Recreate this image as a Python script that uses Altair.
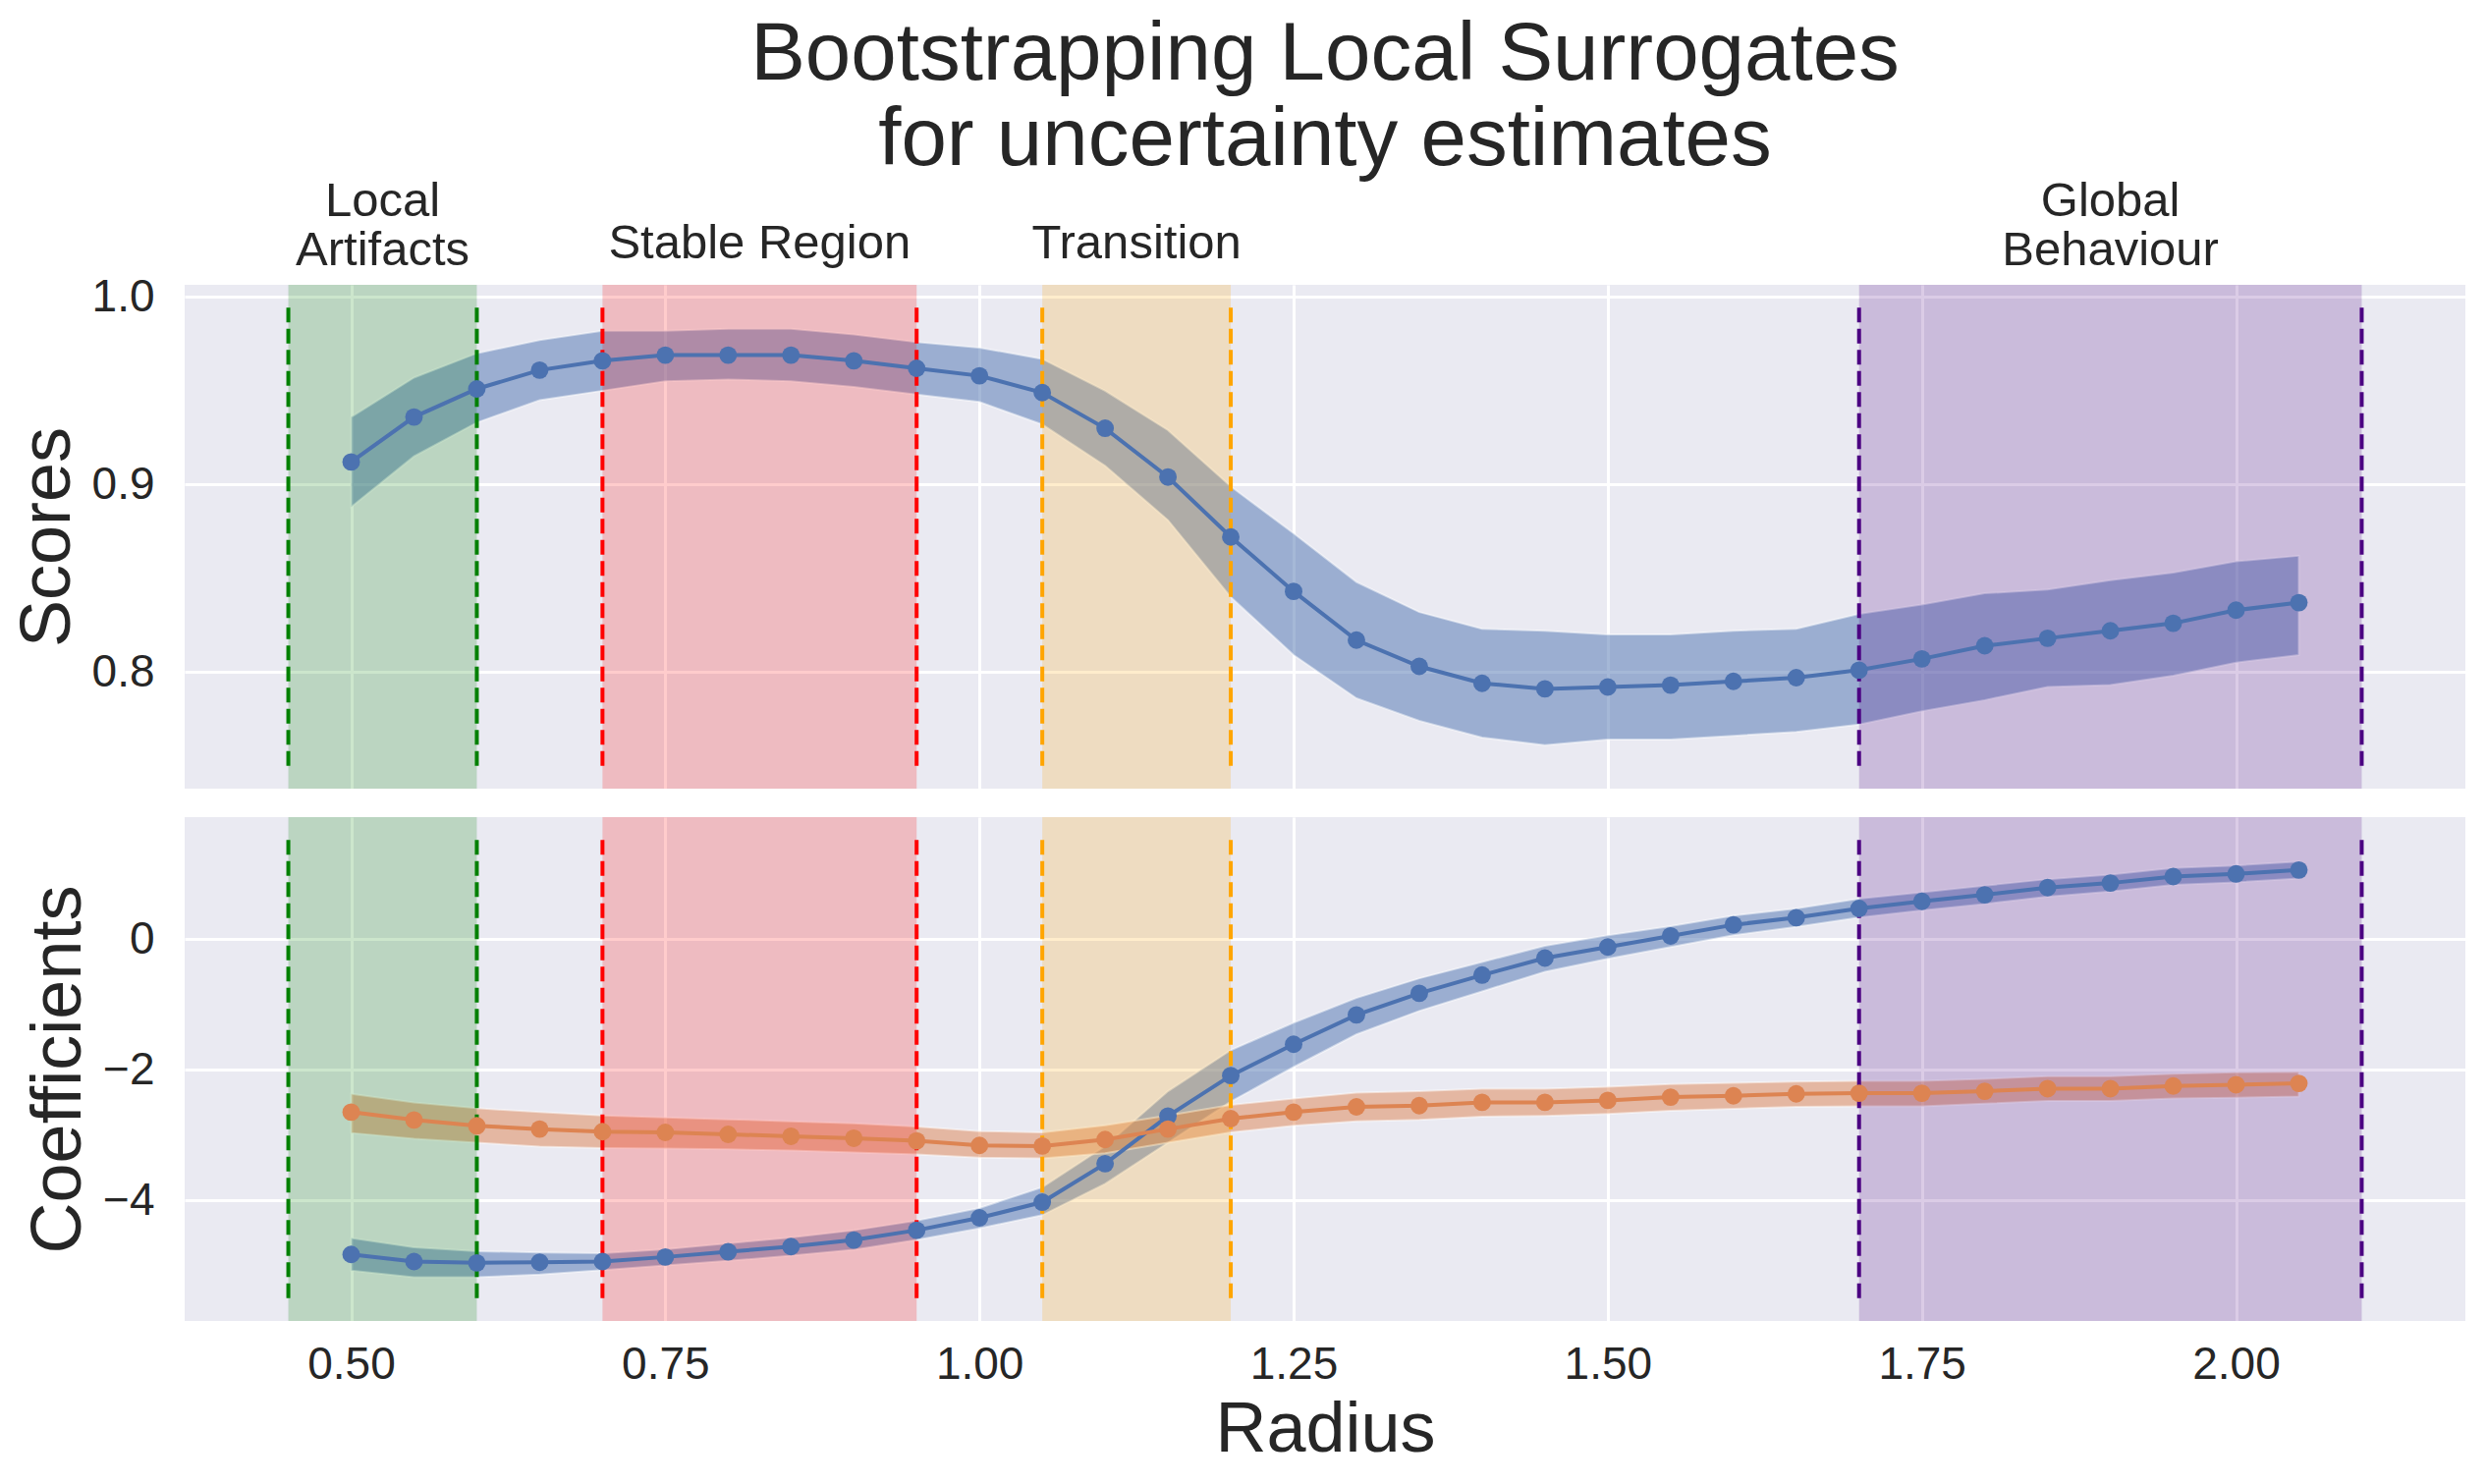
import altair as alt
import pandas as pd

# ---------------- data ----------------
radius = [0.50, 0.55, 0.60, 0.65, 0.70, 0.75, 0.80, 0.85, 0.90, 0.95, 1.00, 1.05,
          1.10, 1.15, 1.20, 1.25, 1.30, 1.35, 1.40, 1.45, 1.50, 1.55, 1.60, 1.65,
          1.70, 1.75, 1.80, 1.85, 1.90, 1.95, 2.00, 2.05]

score_mean = [0.912, 0.936, 0.951, 0.961, 0.966, 0.969, 0.969, 0.969, 0.966, 0.962, 0.958, 0.949,
              0.930, 0.904, 0.872, 0.843, 0.817, 0.803, 0.794, 0.791, 0.792, 0.793, 0.795, 0.797,
              0.801, 0.807, 0.814, 0.818, 0.822, 0.826, 0.833, 0.837]
score_hi = [0.936, 0.957, 0.970, 0.977, 0.982, 0.982, 0.983, 0.983, 0.980, 0.976, 0.973, 0.967,
            0.950, 0.929, 0.899, 0.874, 0.848, 0.832, 0.823, 0.822, 0.820, 0.820, 0.822, 0.823,
            0.831, 0.836, 0.842, 0.844, 0.849, 0.853, 0.859, 0.862]
score_lo = [0.888, 0.915, 0.933, 0.945, 0.950, 0.955, 0.956, 0.955, 0.952, 0.948, 0.944, 0.932,
            0.910, 0.881, 0.840, 0.809, 0.786, 0.774, 0.765, 0.761, 0.764, 0.764, 0.766, 0.768,
            0.772, 0.779, 0.785, 0.792, 0.793, 0.798, 0.805, 0.809]

coef_a_mean = [-4.83, -4.94, -4.96, -4.95, -4.94, -4.87, -4.79, -4.71, -4.61, -4.46, -4.27, -4.03,
               -3.44, -2.71, -2.09, -1.61, -1.16, -0.83, -0.55, -0.29, -0.12, 0.05, 0.22, 0.33,
               0.47, 0.58, 0.68, 0.79, 0.86, 0.96, 1.00, 1.06]
coef_a_hi = [-4.58, -4.72, -4.78, -4.80, -4.81, -4.75, -4.66, -4.57, -4.46, -4.31, -4.12, -3.80,
             -3.17, -2.33, -1.70, -1.28, -0.90, -0.60, -0.35, -0.10, 0.06, 0.20, 0.36, 0.47,
             0.62, 0.72, 0.82, 0.92, 0.99, 1.09, 1.13, 1.19]
coef_a_lo = [-5.08, -5.18, -5.18, -5.14, -5.07, -5.00, -4.93, -4.85, -4.76, -4.61, -4.43, -4.23,
             -3.75, -3.12, -2.49, -1.96, -1.46, -1.10, -0.80, -0.50, -0.30, -0.12, 0.06, 0.19,
             0.33, 0.44, 0.54, 0.65, 0.73, 0.83, 0.87, 0.93]

coef_b_mean = [-2.65, -2.77, -2.86, -2.91, -2.95, -2.96, -2.99, -3.02, -3.05, -3.09, -3.16, -3.17,
               -3.07, -2.91, -2.75, -2.65, -2.57, -2.55, -2.50, -2.50, -2.47, -2.42, -2.40, -2.37,
               -2.36, -2.36, -2.33, -2.29, -2.29, -2.25, -2.23, -2.21]
coef_b_hi = [-2.37, -2.50, -2.59, -2.65, -2.70, -2.73, -2.76, -2.79, -2.82, -2.87, -2.94, -2.96,
             -2.85, -2.70, -2.54, -2.44, -2.35, -2.33, -2.29, -2.29, -2.26, -2.22, -2.20, -2.18,
             -2.17, -2.17, -2.14, -2.10, -2.10, -2.06, -2.04, -2.03]
coef_b_lo = [-2.97, -3.06, -3.12, -3.18, -3.20, -3.21, -3.22, -3.24, -3.27, -3.30, -3.35, -3.36,
             -3.28, -3.12, -2.96, -2.86, -2.79, -2.77, -2.72, -2.71, -2.68, -2.63, -2.60, -2.57,
             -2.56, -2.56, -2.52, -2.48, -2.48, -2.44, -2.43, -2.41]

region_names = ["Local\nArtifacts", "Stable Region", "Transition", "Global\nBehaviour"]
region_start = [0.45, 0.70, 1.05, 1.70]
region_end = [0.60, 0.95, 1.20, 2.10]
region_colors = ["green", "red", "orange", "indigo"]

score_vline_range = (0.75, 0.995)
coef_vline_range = (-5.5, 1.55)

x_ticks = [0.50, 0.75, 1.00, 1.25, 1.50, 1.75, 2.00]
score_ticks = [0.8, 0.9, 1.0]
coef_ticks = [-4, -2, 0]

# ---------------- tables ----------------
scores = pd.DataFrame({"radius": radius, "mean": score_mean, "lo": score_lo, "hi": score_hi})

coefs = pd.concat([
    pd.DataFrame({"radius": radius, "mean": coef_a_mean, "lo": coef_a_lo, "hi": coef_a_hi,
                  "series": "coef 0"}),
    pd.DataFrame({"radius": radius, "mean": coef_b_mean, "lo": coef_b_lo, "hi": coef_b_hi,
                  "series": "coef 1"}),
], ignore_index=True)

regions = pd.DataFrame({"name": region_names, "start": region_start, "end": region_end})
regions["mid"] = (regions["start"] + regions["end"]) / 2


def vlines(yr):
    rows = []
    for n, s, e in zip(region_names, region_start, region_end):
        rows.append({"name": n, "xpos": s, "ymin": yr[0], "ymax": yr[1]})
        rows.append({"name": n, "xpos": e, "ymin": yr[0], "ymax": yr[1]})
    return pd.DataFrame(rows)


# ---------------- styling ----------------
BLUE = "#4C72B0"
ORANGE = "#DD8452"
TXT = "#262626"
FONT = "Liberation Sans"
W, H = 2322, 513
MARK_SIZE = 320
LINE_W = 4

xscale = alt.Scale(domain=[0.3675, 2.1825], nice=False, zero=False)
region_scale = alt.Scale(domain=region_names, range=region_colors)
series_scale = alt.Scale(domain=["coef 0", "coef 1"], range=[BLUE, ORANGE])

x_axis_top = alt.Axis(values=x_ticks, labels=False, title=None, grid=True)
x_axis_bot = alt.Axis(values=x_ticks, format=".2f", title="Radius", grid=True,
                      labelPadding=22, titlePadding=8)


def xenc(field, axis):
    return alt.X(field, type="quantitative", scale=xscale, axis=axis)


def yenc(field, scale, axis):
    return alt.Y(field, type="quantitative", scale=scale, axis=axis)


def spans(axis):
    return alt.Chart(regions).mark_rect(fillOpacity=0.2, strokeWidth=0).encode(
        x=xenc("start", axis), x2="end",
        y=alt.value(0), y2=alt.value(H),
        fill=alt.Fill("name:N", scale=region_scale, legend=None),
    )


def rules(yr, scale, xaxis, yaxis):
    return alt.Chart(vlines(yr)).mark_rule(strokeDash=[15, 6.5], strokeWidth=4).encode(
        x=xenc("xpos", xaxis),
        y=yenc("ymin", scale, yaxis), y2="ymax",
        stroke=alt.Stroke("name:N", scale=region_scale, legend=None),
    )


# ----- top panel -----
y_axis_top = alt.Axis(values=score_ticks, format=".1f", title="Scores", grid=True,
                      labelPadding=31, titlePadding=8)
yscale_top = alt.Scale(domain=[0.7378, 1.0065], nice=False, zero=False)

top_band = alt.Chart(scores).mark_area(
    color=BLUE, fillOpacity=0.5, stroke="white", strokeOpacity=0.5, strokeWidth=2
).encode(
    x=xenc("radius", x_axis_top), y=yenc("lo", yscale_top, y_axis_top), y2="hi"
)
top_line = alt.Chart(scores).mark_line(color=BLUE, strokeWidth=LINE_W).encode(
    x=xenc("radius", x_axis_top), y=yenc("mean", yscale_top, y_axis_top)
)
top_pts = alt.Chart(scores).mark_circle(color=BLUE, size=MARK_SIZE, opacity=1).encode(
    x=xenc("radius", x_axis_top), y=yenc("mean", yscale_top, y_axis_top)
)

label_single = alt.Chart(regions).transform_filter(
    "indexof(datum.name, '\\n') < 0"
).mark_text(fontSize=49, font=FONT, color=TXT, align="center", baseline="alphabetic").encode(
    x=xenc("mid", x_axis_top), y=alt.value(-27), text="name:N"
)
label_double = alt.Chart(regions).transform_filter(
    "indexof(datum.name, '\\n') >= 0"
).mark_text(fontSize=49, font=FONT, color=TXT, align="center", baseline="alphabetic",
            lineBreak="\n", lineHeight=50).encode(
    x=xenc("mid", x_axis_top), y=alt.value(-70), text="name:N"
)

top = alt.layer(
    top_band, spans(x_axis_top), rules(score_vline_range, yscale_top, x_axis_top, y_axis_top),
    top_line, top_pts, label_single, label_double,
).properties(
    width=W, height=H,
    title=alt.TitleParams(
        text=["Bootstrapping Local Surrogates", "for uncertainty estimates"],
        fontSize=83.5, font=FONT, fontWeight="normal", color=TXT, lineHeight=87,
        anchor="middle", frame="group", offset=-4,
    ),
)

# ----- bottom panel -----
y_axis_bot = alt.Axis(values=coef_ticks, format="d", title="Coefficients", grid=True,
                      labelPadding=31, titlePadding=8)
yscale_bot = alt.Scale(domain=[-5.85, 1.87], nice=False, zero=False)

bot_band = alt.Chart(coefs).mark_area(
    fillOpacity=0.5, stroke="white", strokeOpacity=0.5, strokeWidth=2
).encode(
    x=xenc("radius", x_axis_bot), y=yenc("lo", yscale_bot, y_axis_bot), y2="hi",
    color=alt.Color("series:N", scale=series_scale, legend=None),
)
bot_line = alt.Chart(coefs).mark_line(strokeWidth=LINE_W).encode(
    x=xenc("radius", x_axis_bot), y=yenc("mean", yscale_bot, y_axis_bot),
    color=alt.Color("series:N", scale=series_scale, legend=None),
)
bot_pts = alt.Chart(coefs).mark_circle(size=MARK_SIZE, opacity=1).encode(
    x=xenc("radius", x_axis_bot), y=yenc("mean", yscale_bot, y_axis_bot),
    color=alt.Color("series:N", scale=series_scale, legend=None),
)

bottom = alt.layer(
    bot_band, spans(x_axis_bot), rules(coef_vline_range, yscale_bot, x_axis_bot, y_axis_bot),
    bot_line, bot_pts,
).properties(width=W, height=H)

chart = alt.vconcat(top, bottom, spacing=29).properties(
    padding={"left": 4, "top": 5, "right": 5, "bottom": 5},
).configure(font=FONT, background="white").configure_view(
    stroke=None, fill="#EAEAF2"
).configure_axis(
    domain=False, ticks=False, gridColor="white", gridWidth=3, gridOpacity=1,
    labelFont=FONT, labelFontSize=46, labelColor=TXT,
    titleFont=FONT, titleFontSize=72, titleFontWeight="normal", titleColor=TXT,
)

chart.save("out.html", embed_options={"renderer": "svg", "actions": False})
